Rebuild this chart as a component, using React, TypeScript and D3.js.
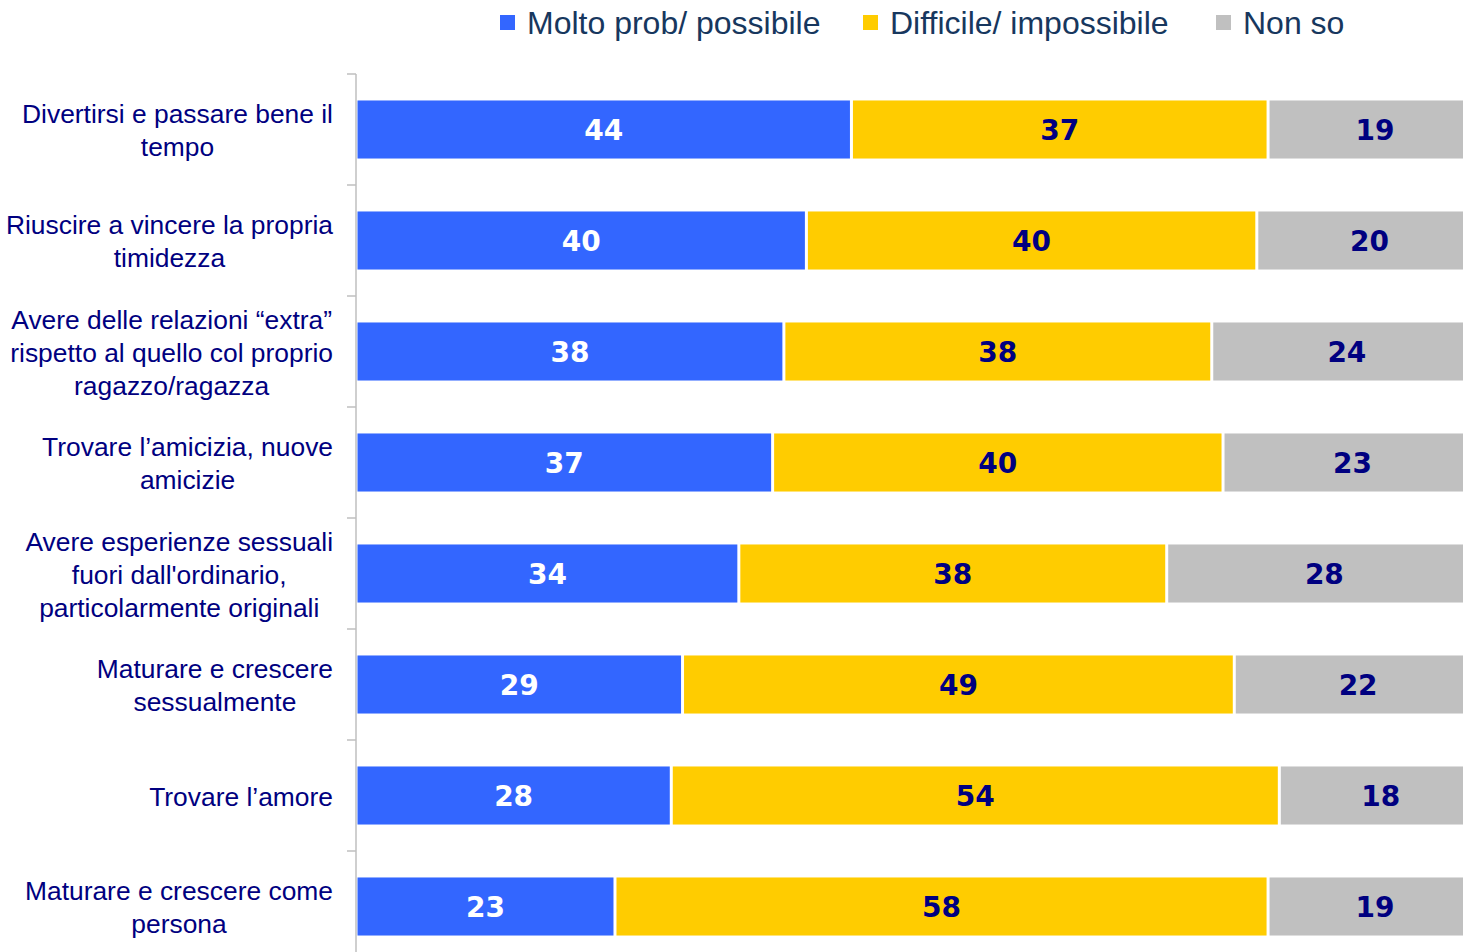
import React, { useMemo } from "react";
import * as d3 from "d3";

const categories: string[][] = [
  ["Divertirsi e passare bene il", "tempo"],
  ["Riuscire a vincere la propria", "timidezza"],
  ["Avere delle relazioni \u201cextra\u201d", "rispetto al quello col proprio", "ragazzo/ragazza"],
  ["Trovare l\u2019amicizia, nuove", "amicizie"],
  ["Avere esperienze sessuali", "fuori dall'ordinario,", "particolarmente originali"],
  ["Maturare e crescere", "sessualmente"],
  ["Trovare l\u2019amore"],
  ["Maturare e crescere come", "persona"],
];
const seriesNames = ["Molto prob/ possibile", "Difficile/ impossibile", "Non so"];
const molto = [44, 40, 38, 37, 34, 29, 28, 23];
const difficile = [37, 40, 38, 40, 38, 49, 54, 58];
const nonSo = [19, 20, 24, 23, 28, 22, 18, 19];

const COLORS = ["#3366FF", "#FFCC00", "#C0C0C0"];
const LABEL_COLORS = ["#FFFFFF", "#000080", "#000080"];
const W = 1463;
const H = 952;

export default function App() {
  const x = d3.scaleLinear().domain([0, 100]).range([356, 1482]);
  const y = d3
    .scaleBand<number>()
    .domain(d3.range(categories.length))
    .range([74, 74 + 111 * categories.length])
    .paddingInner(0.477)
    .paddingOuter(0.2385);

  const rows = categories.map((_, i) => {
    const vals = [molto[i], difficile[i], nonSo[i]];
    let acc = 0;
    return vals.map((v, s) => {
      const x0 = acc;
      acc += v;
      return { s, v, x0, x1: acc };
    });
  });

  const catFont = "26.4px 'Liberation Sans', Arial, sans-serif";
  const widths = useMemo(() => {
    const c = document.createElement("canvas").getContext("2d")!;
    c.font = catFont;
    return categories.map((lines) => Math.max(...lines.map((l) => c.measureText(l).width)));
  }, []);

  const bandStep = 111;
  const ticks = d3.range(categories.length + 1).map((i) => 74 + i * bandStep);
  const legendX = [500, 863, 1216];
  const lineH = 33;

  return (
    <div style={{ position: "absolute", left: 0, top: 0 }}>
      <svg width={W} height={H} style={{ display: "block" }}>
        <rect width={W} height={H} fill="#fff" />
        {seriesNames.map((n, i) => (
          <g key={n}>
            <rect x={legendX[i]} y={15} width={15} height={15} fill={COLORS[i]} />
            <text
              x={legendX[i] + 27}
              y={34}
              fontFamily="'Liberation Sans', Arial, sans-serif"
              fontSize={32}
              fill="#17375E"
            >
              {n}
            </text>
          </g>
        ))}
        <line x1={356} x2={356} y1={74} y2={H + 20} stroke="#BFBFBF" strokeWidth={1.5} />
        {ticks.map((t) => (
          <line key={t} x1={347} x2={356} y1={t} y2={t} stroke="#BFBFBF" strokeWidth={1.5} />
        ))}
        {rows.map((segs, i) => (
          <g key={i}>
            {segs.map((d) => {
              const left = x(d.x0) + 1.5;
              const right = x(d.x1) - 1.5;
              return (
                <g key={d.s}>
                  <rect
                    x={left}
                    y={y(i)!}
                    width={right - left}
                    height={y.bandwidth()}
                    fill={COLORS[d.s]}
                  />
                  <text
                    x={(x(d.x0) + x(d.x1)) / 2}
                    y={y(i)! + y.bandwidth() / 2 + 10}
                    textAnchor="middle"
                    fontFamily="'DejaVu Sans', Verdana, sans-serif"
                    fontWeight="bold"
                    fontSize={28}
                    fill={LABEL_COLORS[d.s]}
                  >
                    {d.v}
                  </text>
                </g>
              );
            })}
          </g>
        ))}
        {categories.map((lines, i) => {
          const cy = y(i)! + y.bandwidth() / 2;
          const cx = 333 - widths[i] / 2;
          const start = cy - ((lines.length - 1) * lineH) / 2;
          return (
            <text
              key={i}
              fontFamily="'Liberation Sans', Arial, sans-serif"
              fontSize={26.4}
              fill="#000080"
              textAnchor="middle"
            >
              {lines.map((l, j) => (
                <tspan key={j} x={cx} y={start + j * lineH + 10}>
                  {l}
                </tspan>
              ))}
            </text>
          );
        })}
      </svg>
    </div>
  );
}
